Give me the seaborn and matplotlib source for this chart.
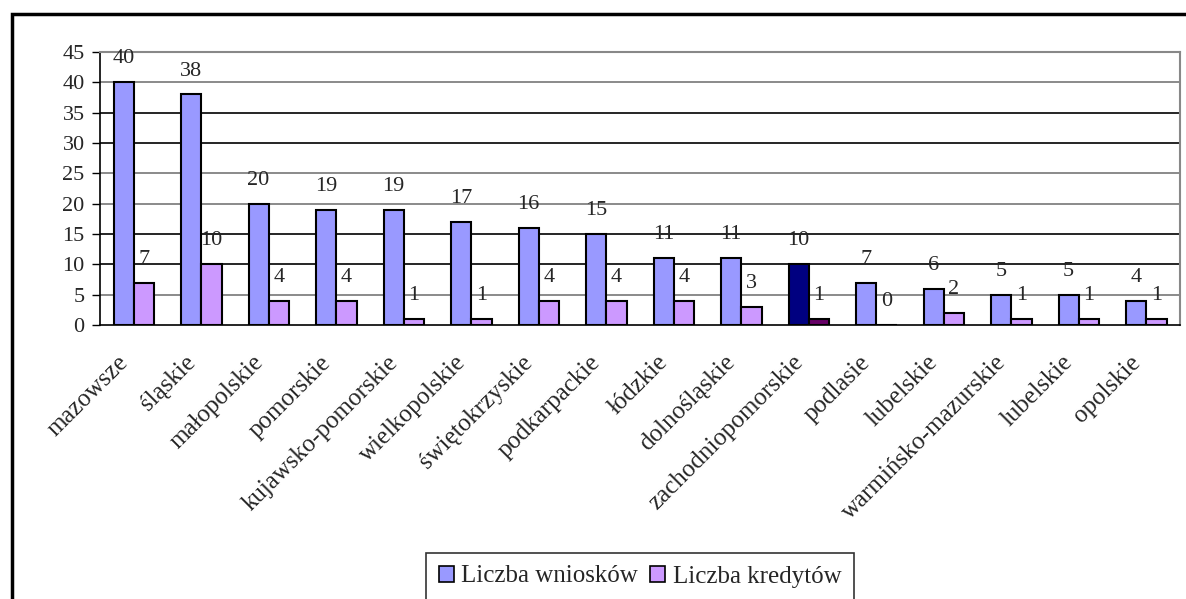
import matplotlib
matplotlib.use('Agg')

import pandas as pd
import matplotlib.pyplot as plt
import matplotlib.patches as mpatches
import seaborn as sns

# dane
kategorie = ['mazowsze', 'śląskie', 'małopolskie', 'pomorskie', 'kujawsko-pomorskie',
             'wielkopolskie', 'świętokrzyskie', 'podkarpackie', 'łódzkie', 'dolnośląskie',
             'zachodniopomorskie', 'podlasie', 'lubelskie', 'warmińsko-mazurskie',
             'lubelskie', 'opolskie']
wnioski = [40, 38, 20, 19, 19, 17, 16, 15, 11, 11, 10, 7, 6, 5, 5, 4]
kredyty = [7, 10, 4, 4, 1, 1, 4, 4, 4, 3, 1, 0, 2, 1, 1, 1]
serie = ['Liczba wniosków', 'Liczba kredytów']
wyrozniony = 'zachodniopomorskie'

sns.set_style('white')
plt.rcParams['font.family'] = ['Liberation Serif', 'DejaVu Serif']
plt.rcParams['font.size'] = 16

pozycje = list(range(len(kategorie)))
df = pd.DataFrame({
    'poz': pozycje * 2,
    'wartosc': wnioski + kredyty,
    'seria': [serie[0]] * len(kategorie) + [serie[1]] * len(kategorie),
})

fig = plt.figure(figsize=(11.86, 5.99), dpi=100)
ax = fig.add_axes([100 / 1186, 1 - 325 / 599, 1080 / 1186, 273 / 599])

sns.barplot(data=df, x='poz', y='wartosc', hue='seria', hue_order=serie,
            palette=['#9999FF', '#CC99FF'], width=0.6, gap=0,
            edgecolor='black', linewidth=1.5, saturation=1, ax=ax, zorder=3)

# wyróżniona kategoria
i = kategorie.index(wyrozniony)
ax.containers[0][i].set_facecolor('#000080')
ax.containers[1][i].set_facecolor('#660066')

for cont in ax.containers:
    ax.bar_label(cont, padding=10, fontsize=16)

ax.set_ylim(0, 45)
ax.set_xlim(-0.5, len(kategorie) - 0.5)
ax.set_yticks(range(0, 46, 5))
# etykiety lekko w lewo, jak w Excelu
ax.set_xticks([p - 0.25 for p in pozycje])
ax.set_xticklabels(kategorie, rotation=45, ha='right', rotation_mode='anchor', fontsize=18)
ax.set_xticks([p - 0.5 for p in pozycje] + [len(kategorie) - 0.5], minor=True)
ax.tick_params(axis='x', which='major', length=0, pad=19)
ax.tick_params(axis='x', which='minor', length=6, width=1, color='black', direction='out')
ax.tick_params(axis='y', length=6, width=1, color='black', direction='out', left=True, pad=5)
ax.set_xlabel('')
ax.set_ylabel('')

# linie siatki
kolory_siatki = {5: '#777777', 10: 'black', 15: 'black', 20: '#777777', 25: '#777777',
                 30: 'black', 35: 'black', 40: '#777777', 45: '#777777'}
for y, c in kolory_siatki.items():
    ax.axhline(y, color=c, lw=1.2, zorder=1)

for s in ['left', 'bottom']:
    ax.spines[s].set_color('black')
    ax.spines[s].set_linewidth(1.2)
for s in ['top', 'right']:
    ax.spines[s].set_color('#888888')
    ax.spines[s].set_linewidth(1.5)

# legenda
uchwyty, etykiety = ax.get_legend_handles_labels()
ax.get_legend().remove()
leg = fig.legend(uchwyty, etykiety, loc='upper center', ncol=2,
                 bbox_to_anchor=(640 / 1186, 1 - 553 / 599), borderaxespad=0, frameon=True,
                 fancybox=False, edgecolor='black', handlelength=0.6, handleheight=0.6,
                 handletextpad=0.3, columnspacing=0.5, borderpad=0.5, fontsize=18)
leg.get_frame().set_linewidth(1.2)
for h in leg.legend_handles:
    h.set_edgecolor('black')
    h.set_linewidth(1.2)

# ramka wykresu
ramka = mpatches.Rectangle((12 / 1186, -0.1), 1.1, 1.1 - 14 / 599, transform=fig.transFigure,
                           fill=False, edgecolor='black', linewidth=2.5, clip_on=False)
fig.patches.append(ramka)

plt.savefig('out.png', dpi=100)
plt.close()
